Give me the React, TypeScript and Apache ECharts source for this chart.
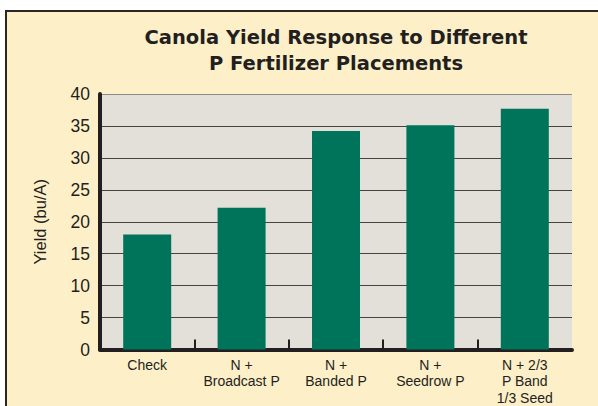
import React, { useEffect, useRef } from "react";
import * as echarts from "echarts";

const categories = ["Check", "N +\nBroadcast P", "N +\nBanded P", "N +\nSeedrow P", "N + 2/3\nP Band\n1/3 Seed"];
const yieldValues = [18, 22.2, 34.2, 35.1, 37.7];
const titleLines = ["Canola Yield Response to Different", "P Fertilizer Placements"];
const yAxisName = "Yield (bu/A)";
// inner boundaries between categories, where the tick marks sit
const boundaryTicks = categories.slice(1).map((_, i) => i + 1);

export default function App() {
  const ref = useRef<HTMLDivElement>(null);
  useEffect(() => {
    const chart = echarts.init(ref.current!, null, { renderer: "svg" });
    const font = "'Liberation Sans', Arial, sans-serif";
    chart.setOption({
      animation: false,
      backgroundColor: "#ffffff",
      graphic: [
        {
          type: "rect",
          z: -10,
          shape: { x: 6, y: 11, width: 600, height: 400 },
          style: { fill: "#FDF0C9", stroke: "#2a2626", lineWidth: 2 },
        },
      ],
      title: {
        text: titleLines.join("\n"),
        left: 331,
        top: 19,
        textAlign: "center",
        textStyle: {
          fontFamily: "'DejaVu Sans', sans-serif",
          fontWeight: "bold",
          fontSize: 19.5,
          lineHeight: 26,
          color: "#231F20",
        },
      },
      grid: {
        left: 100,
        top: 94,
        right: 26,
        bottom: 56,
        show: true,
        backgroundColor: "#E3DFD9",
        borderWidth: 0,
      },
      xAxis: [
        {
          type: "category",
          data: categories,
          axisLine: { show: true, lineStyle: { color: "#231F20", width: 4 } },
          axisTick: { show: false },
          axisLabel: {
            color: "#231F20",
            fontFamily: font,
            fontSize: 14,
            lineHeight: 16.5,
            margin: 7,
            interval: 0,
          },
        },
        {
          type: "value",
          position: "bottom",
          min: 0,
          max: categories.length,
          axisLine: { show: false },
          axisLabel: { show: false },
          splitLine: { show: false },
          axisTick: {
            show: true,
            inside: true,
            length: 10,
            customValues: boundaryTicks,
            lineStyle: { color: "#231F20", width: 2 },
          },
        },
      ],
      yAxis: {
        type: "value",
        min: 0,
        max: 40,
        interval: 5,
        name: yAxisName,
        nameLocation: "middle",
        nameGap: 52,
        nameTextStyle: { fontFamily: font, fontSize: 16.5, color: "#231F20" },
        axisLine: { show: true, lineStyle: { color: "#231F20", width: 4 } },
        axisTick: { show: false },
        axisLabel: { color: "#231F20", fontFamily: font, fontSize: 17.5, margin: 10 },
        splitLine: {
          show: true,
          lineStyle: {
            color: ["#444", "#444", "#444", "#444", "#444", "#444", "#444", "#444", "#8f8a84"],
            width: 1,
          },
        },
      },
      series: [
        {
          type: "bar",
          xAxisIndex: 0,
          data: yieldValues,
          barWidth: 48,
          itemStyle: { color: "#00745A" },
        },
      ],
    });
    return () => chart.dispose();
  }, []);
  return (
    <div
      ref={ref}
      style={{ position: "fixed", left: 0, top: 0, width: 598, height: 406 }}
    />
  );
}
